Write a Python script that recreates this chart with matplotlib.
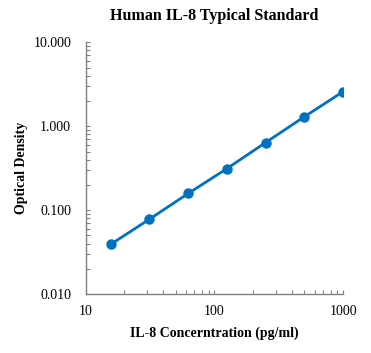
import matplotlib
matplotlib.use('Agg')
import matplotlib.pyplot as plt
from matplotlib.ticker import FixedLocator, FixedFormatter, NullFormatter, LogLocator

# standard curve readings
conc = [15.6, 31.25, 62.5, 125, 250, 500, 1000]
od = [0.039, 0.078, 0.158, 0.313, 0.64, 1.30, 2.59]

x_ticks = [10, 100, 1000]
x_tick_labels = ['10', '100', '1000']
y_ticks = [0.01, 0.1, 1, 10]
y_tick_labels = ['0.010', '0.100', '1.000', '10.000']

plt.rcParams['font.family'] = 'Liberation Serif'

fig = plt.figure(figsize=(3.71, 3.53), dpi=100)
ax = fig.add_axes([0.231, 0.167, 0.694, 0.713])

ax.plot(conc, od, color='#0070C0', linewidth=2.0, marker='o', markersize=6.5)

ax.set_xscale('log')
ax.set_yscale('log')
ax.set_xlim(10, 1000)
ax.set_ylim(0.01, 10)

ax.xaxis.set_major_locator(FixedLocator(x_ticks))
ax.xaxis.set_major_formatter(FixedFormatter(x_tick_labels))
ax.yaxis.set_major_locator(FixedLocator(y_ticks))
ax.yaxis.set_major_formatter(FixedFormatter(y_tick_labels))
ax.xaxis.set_minor_locator(LogLocator(base=10, subs=range(2, 10)))
ax.yaxis.set_minor_locator(LogLocator(base=10, subs=range(2, 10)))
ax.xaxis.set_minor_formatter(NullFormatter())
ax.yaxis.set_minor_formatter(NullFormatter())

for s in ['top', 'right']:
    ax.spines[s].set_visible(False)
for s in ['left', 'bottom']:
    ax.spines[s].set_color('#808080')
    ax.spines[s].set_linewidth(1.0)

ax.tick_params(which='both', direction='in', color='#808080', labelsize=10)
ax.tick_params(which='major', length=3, width=0.8)
ax.tick_params(which='minor', length=3, width=0.8)
ax.tick_params(axis='y', which='major', pad=10.5)
ax.tick_params(axis='x', which='major', pad=8)

ax.set_title('Human IL-8 Typical Standard', fontsize=11.5, fontweight='bold', pad=16)
ax.set_xlabel('IL-8 Concerntration (pg/ml)', fontsize=10, fontweight='bold', labelpad=6)
ax.set_ylabel('Optical Density', fontsize=10, fontweight='bold', labelpad=4)

plt.savefig('out.png', dpi=100)
